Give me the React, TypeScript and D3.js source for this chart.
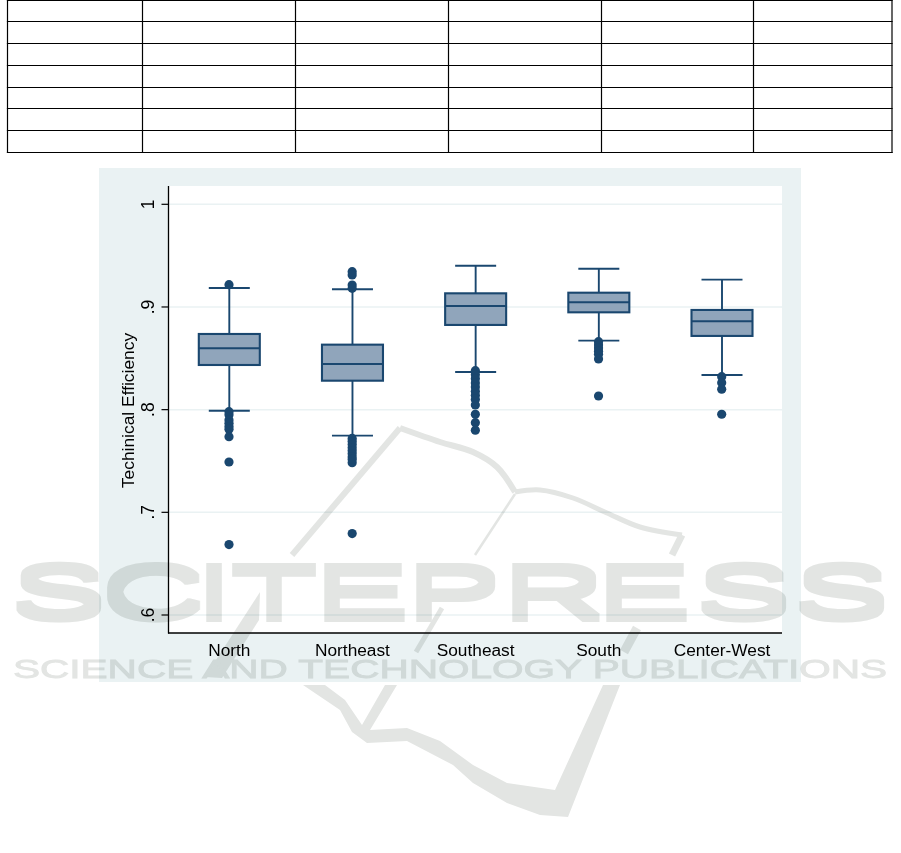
import React from "react";
import * as d3 from "d3";

const regions = ["North", "Northeast", "Southeast", "South", "Center-West"];
const whiskerHigh = [0.9185, 0.9172, 0.9402, 0.9373, 0.9266];
const q3 = [0.8737, 0.8633, 0.9133, 0.9139, 0.8971];
const medians = [0.8598, 0.8445, 0.901, 0.9046, 0.8861];
const q1 = [0.8435, 0.8282, 0.8825, 0.8948, 0.8718];
const whiskerLow = [0.799, 0.7747, 0.8367, 0.8672, 0.8338];
const outliersNorth = [0.9217, 0.798, 0.795, 0.79, 0.7868, 0.7835, 0.781, 0.7737, 0.749, 0.6686];
const outliersNortheast = [0.9344, 0.9312, 0.9214, 0.9182, 0.772, 0.769, 0.766, 0.763, 0.76, 0.757, 0.754, 0.7484, 0.7515, 0.6793];
const outliersSoutheast = [0.838, 0.834, 0.83, 0.826, 0.822, 0.818, 0.814, 0.81, 0.8046, 0.7955, 0.7873, 0.78];
const outliersSouth = [0.8662, 0.863, 0.86, 0.857, 0.854, 0.8494, 0.8133];
const outliersCenterWest = [0.8321, 0.8263, 0.8199, 0.7955];
const outliers = [outliersNorth, outliersNortheast, outliersSoutheast, outliersSouth, outliersCenterWest];
const yTicks = [0.6, 0.7, 0.8, 0.9, 1];
const yTickLabels = [".6", ".7", ".8", ".9", "1"];
const yTitle = "Techinical Efficiency";
const tableColumns = [7.5, 142.5, 295.5, 448.5, 601.5, 753.5, 892];
const tableRows = [0.5, 21.5, 43.5, 65.5, 87.5, 108.5, 130.5, 152.5];
const watermarkBig = "SCITEPRESS".split("");
const watermarkBigX = [17, 108, 207, 233, 325, 417, 513, 607, 702, 800];
const watermarkBearing = [0.045, 0.05, 0.09, 0.02, 0.08, 0.08, 0.08, 0.08, 0.045, 0.045];
const watermarkSmall = "SCIENCE AND TECHNOLOGY PUBLICATIONS";

const NAVY = "#1a476f";
const FILL = "#90a5bb";
const PANEL = "#eaf2f3";
const WM = "#e3e5e3";
const FONT = "'Liberation Sans', Arial, sans-serif";
const WM_SX = 1.95;
const WM_FS = 74;

const x = d3.scalePoint<string>().domain(regions).range([229.3, 722]);
const y = d3.scaleLinear().domain([0.6, 1]).range([615, 204.3]);
const curve = d3.line<[number, number]>().curve(d3.curveCatmullRom.alpha(0.5));
const poly = d3.line<[number, number]>();

const wmBands: { pts: [number, number][]; w: number; smooth?: boolean }[] = [
  { pts: [[292, 555], [400, 428]], w: 6 },
  { pts: [[400, 428], [440, 442], [473, 452], [497, 467], [515, 492]], w: 6, smooth: true },
  { pts: [[515, 492], [540, 490], [573, 498], [607, 513], [640, 527], [682, 535]], w: 5, smooth: true },
  { pts: [[682, 535], [672, 555]], w: 7 },
  { pts: [[515, 494], [475, 555]], w: 2.5 },
  { pts: [[442, 608], [416, 652]], w: 5 },
  { pts: [[637, 628], [624, 652]], w: 9 },
];
const wmShapes: [number, number][][] = [
  [[260, 592], [259, 620], [222, 678], [205, 677]],
  [[303, 685], [325, 685], [345, 700], [362, 725], [385, 685], [397, 685], [370, 730], [407, 728], [440, 741], [473, 765], [507, 783], [555, 790], [603, 685], [620, 685], [568, 817], [540, 815], [507, 803], [473, 783], [453, 765], [407, 741], [367, 743], [352, 732], [340, 710]],
];

export default function App() {
  return (
    <svg width={901} height={853} viewBox="0 0 901 853" style={{ position: "absolute", left: 0, top: 0, display: "block" }}>
      <defs>
        <filter id="wmThick" filterUnits="userSpaceOnUse" x={0} y={540} width={901} height={100} colorInterpolationFilters="sRGB">
          <feMorphology operator="dilate" radius="0.5 4" />
        </filter>
      </defs>
      <rect width={901} height={853} fill="#fff" />
      {tableRows.map((r) => (
        <line key={r} x1={tableColumns[0] - 0.6} x2={tableColumns[6] + 0.6} y1={r} y2={r} stroke="#000" strokeWidth={1.2} />
      ))}
      {tableColumns.map((c) => (
        <line key={c} x1={c} x2={c} y1={0} y2={153} stroke="#000" strokeWidth={1.2} />
      ))}

      <rect x={99} y={168} width={702} height={514} fill={PANEL} />
      <rect x={168} y={186} width={614} height={447} fill="#fff" />
      {yTicks.map((t) => (
        <line key={t} x1={168} x2={782} y1={y(t)} y2={y(t)} stroke={PANEL} strokeWidth={1.5} />
      ))}

      <g style={{ mixBlendMode: "multiply" }}>
        {wmBands.map((b, i) => (
          <path key={i} d={(b.smooth ? curve : poly)(b.pts) as string} fill="none" stroke={WM} strokeWidth={b.w} strokeLinecap="butt" strokeLinejoin="round" />
        ))}
        {wmShapes.map((s, i) => (
          <path key={i} d={`${poly(s)}Z`} fill={WM} />
        ))}
        <g filter="url(#wmThick)">
          <text
            y={618}
            x={watermarkBigX.map((v, i) => v / WM_SX - watermarkBearing[i] * WM_FS).join(" ")}
            transform={`scale(${WM_SX} 1)`}
            fontFamily={FONT}
            fontSize={WM_FS}
            fill={WM}
          >
            {watermarkBig.join("")}
          </text>
        </g>
        <text
          x={13}
          y={678}
          textLength={874}
          lengthAdjust="spacingAndGlyphs"
          fontFamily={FONT}
          fontSize={25}
          fill={WM}
          stroke={WM}
          strokeWidth={0.8}
        >
          {watermarkSmall}
        </text>
      </g>

      <line x1={168.5} x2={168.5} y1={186} y2={633.5} stroke="#000" strokeWidth={1.3} />
      <line x1={168} x2={782} y1={633} y2={633} stroke="#000" strokeWidth={1.3} />
      {yTicks.map((t, i) => (
        <g key={t}>
          <line x1={161.5} x2={168} y1={y(t)} y2={y(t)} stroke="#000" strokeWidth={1.2} />
          <text
            transform={`translate(153.5,${y(t)}) rotate(-90)`}
            textAnchor="middle"
            fontFamily={FONT}
            fontSize={17.5}
            fill="#000"
          >
            {yTickLabels[i]}
          </text>
        </g>
      ))}
      <text transform="translate(133.5,410.5) rotate(-90)" textAnchor="middle" fontFamily={FONT} fontSize={17.4} fill="#000">
        {yTitle}
      </text>
      {regions.map((r) => (
        <text key={r} x={x(r)} y={656} textAnchor="middle" fontFamily={FONT} fontSize={17.3} fill="#000">
          {r}
        </text>
      ))}

      {regions.map((r, i) => {
        const cx = x(r) as number;
        return (
          <g key={r}>
            <line x1={cx} x2={cx} y1={y(whiskerHigh[i])} y2={y(q3[i])} stroke={NAVY} strokeWidth={1.9} />
            <line x1={cx} x2={cx} y1={y(q1[i])} y2={y(whiskerLow[i])} stroke={NAVY} strokeWidth={1.9} />
            <line x1={cx - 20.5} x2={cx + 20.5} y1={y(whiskerHigh[i])} y2={y(whiskerHigh[i])} stroke={NAVY} strokeWidth={1.9} />
            <line x1={cx - 20.5} x2={cx + 20.5} y1={y(whiskerLow[i])} y2={y(whiskerLow[i])} stroke={NAVY} strokeWidth={1.9} />
            <rect x={cx - 30.5} width={61} y={y(q3[i])} height={y(q1[i]) - y(q3[i])} fill={FILL} stroke={NAVY} strokeWidth={2.1} />
            <line x1={cx - 30.5} x2={cx + 30.5} y1={y(medians[i])} y2={y(medians[i])} stroke={NAVY} strokeWidth={1.9} />
            {outliers[i].map((v, j) => (
              <circle key={j} cx={cx - 0.3} cy={y(v)} r={4.6} fill={NAVY} />
            ))}
          </g>
        );
      })}
    </svg>
  );
}
